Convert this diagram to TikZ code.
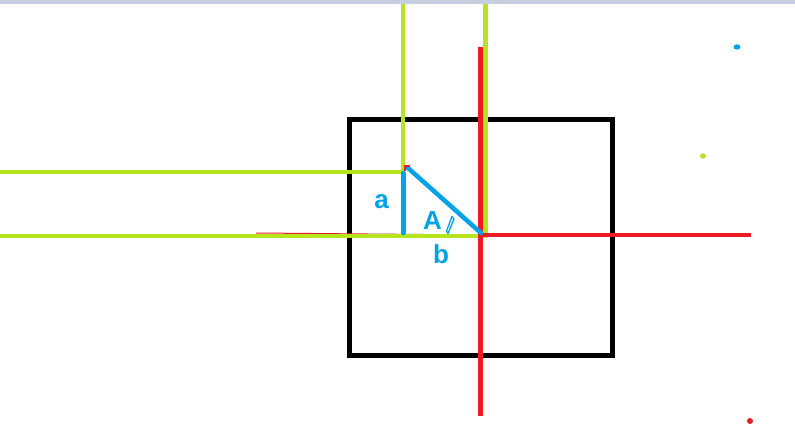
\documentclass[tikz,border=0pt]{standalone}
\usepackage{fontspec}
\setmainfont{Liberation Sans}
\definecolor{pblue}{HTML}{00A2E8}
\definecolor{pgreen}{HTML}{B5E61D}
\definecolor{pred}{HTML}{ED1C24}
\definecolor{pbar}{HTML}{C5CFE0}
\begin{document}
\begin{tikzpicture}[x=1pt,y=-1pt,
  greenln/.style={draw=pgreen,line width=4.5pt},
  redln/.style={draw=pred,line width=4.5pt},
  blueln/.style={draw=pblue,line width=4.5pt,line cap=round},
  lbl/.style={text=pblue,font=\fontsize{26}{26}\selectfont\bfseries,inner sep=0pt}]
\useasboundingbox (0,0) rectangle (795,439);
\fill[white] (0,0) rectangle (795,439);
\fill[pbar] (0,0) rectangle (795,4);
% black square
\draw[black,line width=5pt] (349.5,119.5) rectangle (612.5,355);
% coordinates
\coordinate (gv1top) at (403,4);
\coordinate (gc1) at (403,172);
\coordinate (gh1l) at (0,172);
\coordinate (gv2top) at (485.5,4);
\coordinate (gc2) at (485.5,236);
\coordinate (gh2l) at (0,236);
\coordinate (rvt) at (480.5,47);
\coordinate (rvb) at (480.5,416);
\coordinate (ro) at (480.5,235);
\coordinate (rhr) at (751,235);
\coordinate (rtl) at (256,233);
\coordinate (bt) at (403.3,173);
\coordinate (bb) at (403.3,233);
\coordinate (ht) at (408,168);
\coordinate (hb) at (481,233);
% thin red line
\draw[pred,line width=1pt] (rtl) -- (ro);
% green lines
\draw[greenln] (gh1l) -- (gc1) -- (gv1top);
\draw[greenln] (gh2l) -- (gc2) -- (gv2top);
% red axes
\draw[redln] (rvt) -- (rvb);
\draw[pred,line width=4pt] (ro) -- (rhr);
% blue triangle
\draw[blueln] (bt) -- (bb);
\draw[blueln] (ht) -- (hb);
% small red mark at vertex
\draw[pred,line width=1.5pt] (405,171) -- (405,166) -- (410,166);
% angle mark
\draw[pblue,line width=1.3pt,line join=round] (452,216.5) -- (446.5,231) -- (448,233.5) -- (454,219) -- cycle;
% labels
\node[lbl] (la) at (381.5,202) {a};
\node[lbl] (lA) at (432.5,221) {A};
\node[lbl] (lb) at (441,254) {b};
% dots
\fill[pblue] (737,47) ellipse (3.5pt and 2.7pt);
\fill[pgreen] (703,156) ellipse (3pt and 2.7pt);
\fill[pred] (750,421) circle (3pt);
\end{tikzpicture}
\end{document}
